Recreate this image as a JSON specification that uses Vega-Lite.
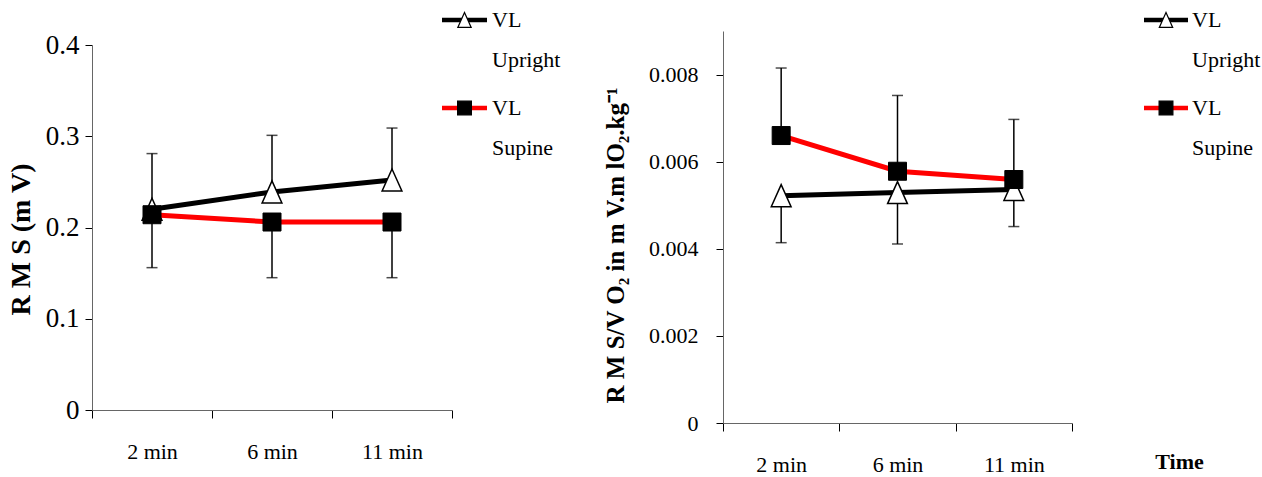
{
  "$schema": "https://vega.github.io/schema/vega-lite/v6.json",
  "padding": {"left": 7, "top": 9, "right": 0, "bottom": 0},
  "background": "white",
  "spacing": 42,
  "datasets": {
    "rms": [
      {"time": "2 min", "series": "Upright", "value": 0.220, "bar_end": 0.281},
      {"time": "6 min", "series": "Upright", "value": 0.239, "bar_end": 0.301},
      {"time": "11 min", "series": "Upright", "value": 0.252, "bar_end": 0.309},
      {"time": "2 min", "series": "Supine", "value": 0.214, "bar_end": 0.156},
      {"time": "6 min", "series": "Supine", "value": 0.206, "bar_end": 0.145},
      {"time": "11 min", "series": "Supine", "value": 0.206, "bar_end": 0.145}
    ],
    "ratio": [
      {"time": "2 min", "series": "Upright", "value": 0.00522, "bar_end": 0.00414},
      {"time": "6 min", "series": "Upright", "value": 0.00529, "bar_end": 0.00411},
      {"time": "11 min", "series": "Upright", "value": 0.00536, "bar_end": 0.00451},
      {"time": "2 min", "series": "Supine", "value": 0.00660, "bar_end": 0.00815},
      {"time": "6 min", "series": "Supine", "value": 0.00578, "bar_end": 0.00752},
      {"time": "11 min", "series": "Supine", "value": 0.00559, "bar_end": 0.00697}
    ],
    "legendRows": [
      {"series": "Upright", "line1": "VL", "line2": "Upright"},
      {"series": "Supine", "line1": "VL", "line2": "Supine"}
    ]
  },
  "hconcat": [
    {
      "width": 360,
      "height": 392,
      "layer": [
        {
          "data": {"name": "rms"},
          "encoding": {
            "x": {
              "field": "time", "type": "nominal",
              "scale": {"type": "band", "domain": ["2 min", "6 min", "11 min"], "paddingInner": 0, "paddingOuter": 0},
              "axis": {"title": null, "offset": -13, "labelAngle": 0, "tickBand": "extent", "tickSize": 8, "labelPadding": 23, "labelFontSize": 22}
            },
            "y": {
              "field": "value", "type": "quantitative",
              "scale": {"domain": [0, 0.4], "nice": false, "zero": true, "range": [379, 14]},
              "axis": {"title": "R M S (m V)", "titleY": 208, "values": [0, 0.1, 0.2, 0.3, 0.4], "format": "~g", "labelFontSize": 27, "labelPadding": 6, "tickSize": 7, "titlePadding": 10, "titleFontSize": 28}
            }
          },
          "layer": [
            {"mark": {"type": "rule", "color": "black", "strokeWidth": 1.5}, "encoding": {"y2": {"field": "bar_end"}}},
            {"mark": {"type": "tick", "color": "black", "size": 11, "thickness": 1.5}, "encoding": {"y": {"field": "bar_end", "type": "quantitative"}}},
            {"transform": [{"filter": "datum.series === 'Upright'"}], "mark": {"type": "line", "color": "black", "strokeWidth": 5}, "encoding": {}},
            {"transform": [{"filter": "datum.series === 'Upright'"}], "mark": {"type": "point", "shape": "M0,-1L-0.9,1L0.9,1Z", "filled": true, "fill": "white", "stroke": "black", "strokeWidth": 1.5, "size": 484, "opacity": 1}, "encoding": {}},
            {"transform": [{"filter": "datum.series === 'Supine'"}], "mark": {"type": "line", "color": "#ff0000", "strokeWidth": 5}, "encoding": {}},
            {"transform": [{"filter": "datum.series === 'Supine'"}], "mark": {"type": "point", "shape": "square", "filled": true, "fill": "black", "stroke": "black", "strokeWidth": 1, "size": 324, "opacity": 1}, "encoding": {}}
          ]
        },
        {
          "data": {"name": "legendRows"},
          "encoding": {
            "y": {"field": "series", "type": "nominal", "scale": {"type": "point", "domain": ["Upright", "Supine"], "range": [-11, 77], "padding": 0}, "axis": null}
          },
          "layer": [
            {
              "mark": {"type": "rule", "strokeWidth": 4.5},
              "encoding": {
                "x": {"datum": 0, "type": "quantitative", "scale": {"domain": [0, 1], "range": [350, 395]}, "axis": null},
                "x2": {"datum": 1},
                "color": {"field": "series", "type": "nominal", "scale": {"domain": ["Upright", "Supine"], "range": ["black", "#ff0000"]}, "legend": null}
              }
            },
            {
              "mark": {"type": "point", "filled": true, "stroke": "black", "strokeWidth": 1.2, "opacity": 1},
              "encoding": {
                "x": {"datum": 0.5, "type": "quantitative"},
                "shape": {"field": "series", "type": "nominal", "scale": {"domain": ["Upright", "Supine"], "range": ["M0,-1L-0.9,1L0.9,1Z", "square"]}, "legend": null},
                "fill": {"field": "series", "type": "nominal", "scale": {"domain": ["Upright", "Supine"], "range": ["white", "black"]}, "legend": null},
                "size": {"field": "series", "type": "nominal", "scale": {"domain": ["Upright", "Supine"], "range": [220, 190]}, "legend": null}
              }
            },
            {
              "mark": {"type": "text", "align": "left", "baseline": "middle", "dx": 5, "font": "Liberation Serif", "fontSize": 22, "color": "black"},
              "encoding": {"x": {"datum": 1, "type": "quantitative"}, "text": {"field": "line1"}}
            },
            {
              "mark": {"type": "text", "align": "left", "baseline": "middle", "dx": 5, "dy": 40, "font": "Liberation Serif", "fontSize": 22, "color": "black"},
              "encoding": {"x": {"datum": 1, "type": "quantitative"}, "text": {"field": "line2"}}
            }
          ]
        }
      ],
      "resolve": {"scale": {"x": "independent", "y": "independent", "color": "independent", "shape": "independent", "fill": "independent", "size": "independent"}}
    },
    {
      "width": 349,
      "height": 392,
      "layer": [
        {
          "data": {"name": "ratio"},
          "encoding": {
            "x": {
              "field": "time", "type": "nominal",
              "scale": {"type": "band", "domain": ["2 min", "6 min", "11 min"], "paddingInner": 0, "paddingOuter": 0},
              "axis": {"title": "Time", "titleX": 456, "titleY": 38, "titleAngle": 0, "titleAlign": "center", "titleBaseline": "middle", "titleFontSize": 22, "labelAngle": 0, "tickBand": "extent", "tickSize": 8, "labelPadding": 23, "labelFontSize": 22}
            },
            "y": {
              "field": "value", "type": "quantitative",
              "scale": {"domain": [0, 0.009], "nice": false, "zero": true},
              "axis": {"title": "R M S/V O₂ in m V.m lO₂.kg⁻¹", "titleY": 214, "values": [0, 0.002, 0.004, 0.006, 0.008], "format": "~g", "labelFontSize": 22, "labelPadding": 18, "tickSize": 7, "titlePadding": 20, "titleFontSize": 25}
            }
          },
          "layer": [
            {"mark": {"type": "rule", "color": "black", "strokeWidth": 1.5}, "encoding": {"y2": {"field": "bar_end"}}},
            {"mark": {"type": "tick", "color": "black", "size": 11, "thickness": 1.5}, "encoding": {"y": {"field": "bar_end", "type": "quantitative"}}},
            {"transform": [{"filter": "datum.series === 'Upright'"}], "mark": {"type": "line", "color": "black", "strokeWidth": 5}, "encoding": {}},
            {"transform": [{"filter": "datum.series === 'Upright'"}], "mark": {"type": "point", "shape": "M0,-1L-0.9,1L0.9,1Z", "filled": true, "fill": "white", "stroke": "black", "strokeWidth": 1.5, "size": 484, "opacity": 1}, "encoding": {}},
            {"transform": [{"filter": "datum.series === 'Supine'"}], "mark": {"type": "line", "color": "#ff0000", "strokeWidth": 5}, "encoding": {}},
            {"transform": [{"filter": "datum.series === 'Supine'"}], "mark": {"type": "point", "shape": "square", "filled": true, "fill": "black", "stroke": "black", "strokeWidth": 1, "size": 324, "opacity": 1}, "encoding": {}}
          ]
        },
        {
          "data": {"name": "legendRows"},
          "encoding": {
            "y": {"field": "series", "type": "nominal", "scale": {"type": "point", "domain": ["Upright", "Supine"], "range": [-11, 77], "padding": 0}, "axis": null}
          },
          "layer": [
            {
              "mark": {"type": "rule", "strokeWidth": 4.5},
              "encoding": {
                "x": {"datum": 0, "type": "quantitative", "scale": {"domain": [0, 1], "range": [421, 465]}, "axis": null},
                "x2": {"datum": 1},
                "color": {"field": "series", "type": "nominal", "scale": {"domain": ["Upright", "Supine"], "range": ["black", "#ff0000"]}, "legend": null}
              }
            },
            {
              "mark": {"type": "point", "filled": true, "stroke": "black", "strokeWidth": 1.2, "opacity": 1},
              "encoding": {
                "x": {"datum": 0.5, "type": "quantitative"},
                "shape": {"field": "series", "type": "nominal", "scale": {"domain": ["Upright", "Supine"], "range": ["M0,-1L-0.9,1L0.9,1Z", "square"]}, "legend": null},
                "fill": {"field": "series", "type": "nominal", "scale": {"domain": ["Upright", "Supine"], "range": ["white", "black"]}, "legend": null},
                "size": {"field": "series", "type": "nominal", "scale": {"domain": ["Upright", "Supine"], "range": [220, 190]}, "legend": null}
              }
            },
            {
              "mark": {"type": "text", "align": "left", "baseline": "middle", "dx": 4, "font": "Liberation Serif", "fontSize": 22, "color": "black"},
              "encoding": {"x": {"datum": 1, "type": "quantitative"}, "text": {"field": "line1"}}
            },
            {
              "mark": {"type": "text", "align": "left", "baseline": "middle", "dx": 4, "dy": 40, "font": "Liberation Serif", "fontSize": 22, "color": "black"},
              "encoding": {"x": {"datum": 1, "type": "quantitative"}, "text": {"field": "line2"}}
            }
          ]
        }
      ],
      "resolve": {"scale": {"x": "independent", "y": "independent", "color": "independent", "shape": "independent", "fill": "independent", "size": "independent"}}
    }
  ],
  "config": {
    "view": {"stroke": null},
    "axis": {
      "grid": false,
      "domainColor": "#666666",
      "domainWidth": 1,
      "tickColor": "black",
      "tickWidth": 1,
      "labelFont": "Liberation Serif",
      "labelColor": "black",
      "titleFont": "Liberation Serif",
      "titleFontWeight": "bold",
      "titleColor": "black"
    }
  }
}
